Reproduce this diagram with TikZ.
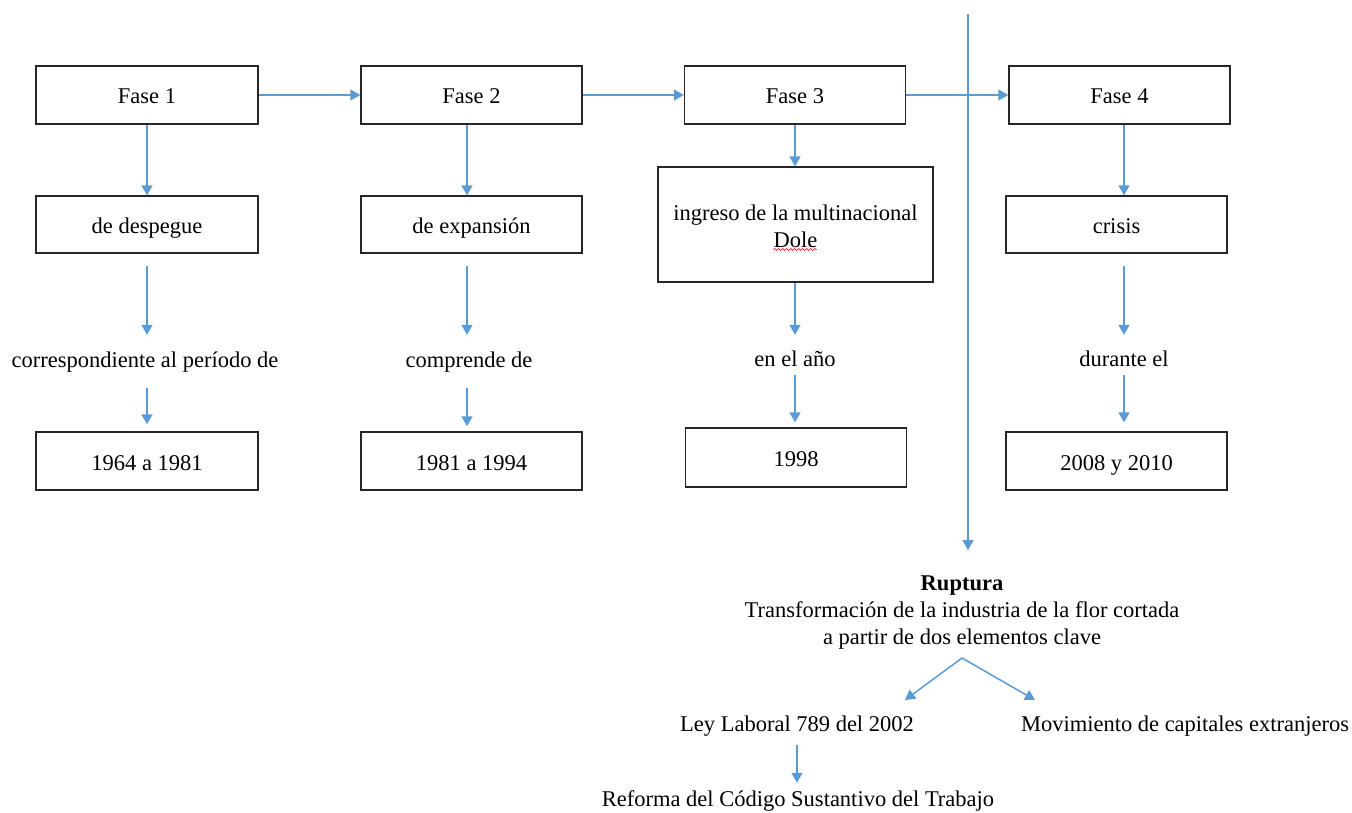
\documentclass[tikz,border=0pt]{standalone}
\usepackage{fontspec}
\setmainfont{Liberation Serif}
\usetikzlibrary{arrows.meta,decorations.pathmorphing}
\definecolor{arrowblue}{RGB}{91,155,213}
\begin{document}
\begin{tikzpicture}[x=1pt,y=-1pt,
  txt/.style={font=\fontsize{22.5}{27}\selectfont},
  box/.style={txt,draw=black!85,line width=1.3pt,inner sep=0pt,minimum width=221pt,minimum height=58pt,align=center,text height=18pt,text depth=0pt},
  lbl/.style={txt,inner sep=0pt,text height=16pt,text depth=5pt},
  arr/.style={draw=arrowblue,line width=1.5pt,-{Triangle[width=11pt,length=10pt]}}]
\useasboundingbox (0,0) rectangle (1352,813);
% phases
\node[box,minimum width=222pt] (f1) at (147,95) {Fase 1};
\node[box] (f2) at (471.5,95) {Fase 2};
\node[box] (f3) at (795,95) {Fase 3};
\node[box] (f4) at (1119.5,95) {Fase 4};
% second row
\node[box,minimum width=222pt,minimum height=57pt] (desp) at (147,224.5) {de despegue};
\node[box,minimum height=57pt] (expa) at (471.5,224.5) {de expansión};
\node[box,minimum width=275pt,minimum height=115pt,text height=46pt,text depth=0pt] (ingr) at (795.5,224.5) {ingreso de la multinacional\\Dole};
\node[box,minimum height=57pt] (cris) at (1116.5,224.5) {crisis};
% labels
\node[lbl] (corr) at (145,362) {correspondiente al período de};
\node[lbl] (comp) at (469,362) {comprende de};
\node[lbl] (anio) at (795,361) {en el año};
\node[lbl] (dura) at (1124,361) {durante el};
% years
\node[box,minimum width=222pt] (y1) at (147,461) {1964 a 1981};
\node[box] (y2) at (471.5,461) {1981 a 1994};
\node[box,minimum height=59pt] (y3) at (796,457.5) {1998};
\node[box] (y4) at (1116.5,461) {2008 y 2010};
% spell-check squiggle under Dole
\draw[red!85!black,line width=0.6pt,decorate,decoration={snake,amplitude=1pt,segment length=4pt}]
  ([shift={(-22,25)}]ingr.center) -- ([shift={(21,25)}]ingr.center);
% horizontal arrows
\draw[arr] (f1.east) -- (f2.west);
\draw[arr] (f2.east) -- (f3.west);
\draw[arr] (f3.east) -- (f4.west);
% column 1
\draw[arr] (f1.south) -- (desp.north);
\draw[arr,shorten <=12pt,shorten >=16.5pt] (desp.south) -- (desp.south |- corr.north);
\draw[arr,shorten <=15.5pt,shorten >=7pt] (y1.north |- corr.south) -- (y1.north);
% column 2
\draw[arr] ([xshift=-4.5pt]f2.south) -- ([xshift=-4.5pt]expa.north);
\draw[arr,shorten <=12pt,shorten >=16.5pt] ([xshift=-4.5pt]expa.south) -- ([xshift=-4.5pt]expa.south |- comp.north);
\draw[arr,shorten <=15.5pt,shorten >=5pt] ([xshift=-4.5pt]y2.north |- comp.south) -- ([xshift=-4.5pt]y2.north);
% column 3
\draw[arr] (f3.south) -- (f3.south |- ingr.north);
\draw[arr,shorten >=15.5pt] (anio.north |- ingr.south) -- (anio.north);
\draw[arr,shorten <=3.5pt,shorten >=5pt] (anio.south) -- (anio.south |- y3.north);
% column 4
\draw[arr] ([xshift=4.5pt]f4.south) -- ([xshift=4.5pt]f4.south |- cris.north);
\draw[arr,shorten <=12pt,shorten >=15.5pt] (dura.north |- cris.south) -- (dura.north);
\draw[arr,shorten <=3.5pt,shorten >=9pt] (dura.south) -- (dura.south |- y4.north);
% rupture
\coordinate (top) at (968,14);
\node[txt,align=center,inner sep=0pt] (rup) at (962,613) {\textbf{Ruptura}\\Transformación de la industria de la flor cortada\\a partir de dos elementos clave};
\draw[arr,shorten >=26pt] (top) -- (top |- rup.north);
\coordinate (split) at (962,658);
\coordinate (lt) at (905,700);
\coordinate (rt) at (1035,700);
\node[lbl] (ley) at (797,726) {Ley Laboral 789 del 2002};
\node[lbl] (mov) at (1185,726) {Movimiento de capitales extranjeros};
\node[lbl] (ref) at (798,801) {Reforma del Código Sustantivo del Trabajo};
\draw[arr] (split) -- (lt);
\draw[arr] (split) -- (rt);
\draw[arr,shorten <=8.5pt,shorten >=7.5pt] (ley.south) -- (ley.south |- ref.north);
\end{tikzpicture}
\end{document}
